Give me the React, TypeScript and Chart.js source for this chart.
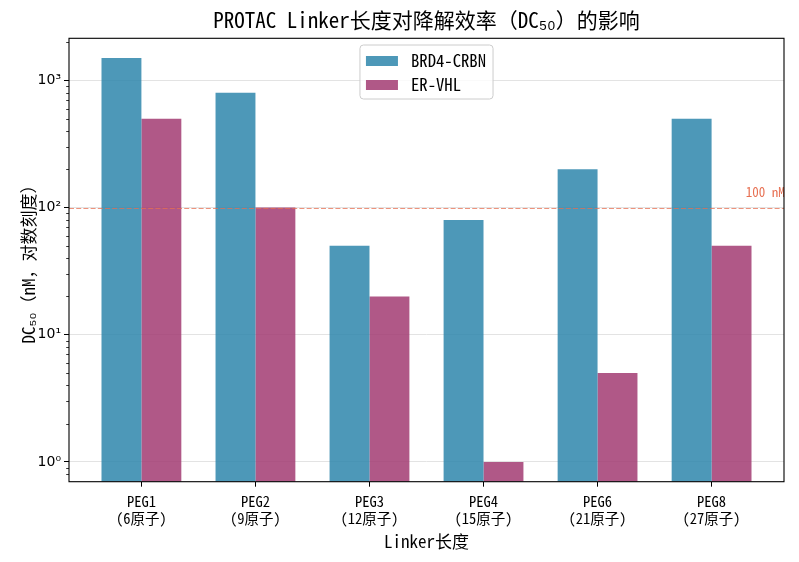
import { useEffect, useRef } from 'react';
import { Chart, registerables } from 'chart.js';

Chart.register(...registerables);

// Linker variants on the x axis (two-line tick labels)
const linkers = ['PEG1', 'PEG2', 'PEG3', 'PEG4', 'PEG6', 'PEG8'];
const atomCounts = ['(6原子)', '(9原子)', '(12原子)', '(15原子)', '(21原子)', '(27原子)'];

// DC50 values in nM
const seriesNames = ['BRD4-CRBN', 'ER-VHL'];
const brd4Crbn = [1500, 800, 50, 80, 200, 500];
const erVhl = [500, 100, 20, 1, 5, 50];

// Log axis decades and their labels
const majorTicks = [1, 10, 100, 1000];
const majorTickLabels = ['10⁰', '10¹', '10²', '10³'];
const yRange = [0.709, 2140];

// Reference threshold
const thresholdValue = 100;
const thresholdLabel = '100 nM';

const titleText = 'PROTAC Linker长度对降解效率（DC₅₀）的影响';
const xTitle = 'Linker长度';
const yTitle = 'DC₅₀（nM，对数刻度）';

const CJK = '"Noto Sans Mono CJK SC", "Noto Sans CJK SC", sans-serif';
const SANS = '"DejaVu Sans", sans-serif';

const BLUE = 'rgba(46,134,171,0.85)';
const PINK = 'rgba(162,59,114,0.85)';
const ACCENT = '#E76F51';

const isDecade = (v: number) => Math.abs(Math.log10(v) - Math.round(Math.log10(v))) < 1e-6;
const isNice = (v: number) => {
  const e = Math.floor(Math.log10(v) + 1e-9);
  const m = v / Math.pow(10, e);
  return Math.abs(m - Math.round(m)) < 1e-6;
};

const decorations = {
  id: 'decorations',
  afterDatasetsDraw(chart: any) {
    const { ctx, chartArea: a, scales } = chart;
    const x = scales.x;
    const y = scales.y;
    ctx.save();
    // threshold line
    const ty = Math.round(y.getPixelForValue(thresholdValue)) + 0.5;
    ctx.beginPath();
    ctx.rect(a.left, a.top, a.right - a.left, a.bottom - a.top);
    ctx.clip();
    ctx.strokeStyle = 'rgba(231,111,81,0.75)';
    ctx.lineWidth = 1.2;
    ctx.setLineDash([5, 2.2]);
    ctx.beginPath();
    ctx.moveTo(a.left, ty);
    ctx.lineTo(a.right, ty);
    ctx.stroke();
    ctx.restore();

    ctx.save();
    ctx.fillStyle = ACCENT;
    ctx.font = `13px ${CJK}`;
    ctx.textAlign = 'left';
    ctx.textBaseline = 'bottom';
    ctx.fillText(thresholdLabel, x.getPixelForValue(5.3), y.getPixelForValue(120) + 1);
    ctx.restore();
  },
  afterDraw(chart: any) {
    const { ctx, chartArea: a, scales } = chart;
    const y = scales.y;
    ctx.save();
    // minor ticks on the log axis
    ctx.strokeStyle = '#000';
    ctx.lineWidth = 0.8;
    for (const t of y.ticks) {
      if (isDecade(t.value)) continue;
      const py = Math.round(y.getPixelForValue(t.value)) + 0.5;
      ctx.beginPath();
      ctx.moveTo(a.left - 2.8, py);
      ctx.lineTo(a.left, py);
      ctx.stroke();
    }
    // axes frame
    ctx.lineWidth = 1.1;
    ctx.strokeStyle = '#000';
    ctx.strokeRect(a.left, a.top, a.right - a.left, a.bottom - a.top);

    // title
    ctx.fillStyle = '#000';
    ctx.font = `21px ${CJK}`;
    ctx.textAlign = 'center';
    ctx.textBaseline = 'alphabetic';
    ctx.fillText(titleText, (a.left + a.right) / 2, 28);

    // legend
    const fs = 16.7;
    ctx.font = `${fs}px ${CJK}`;
    const tw = Math.max(...seriesNames.map((n) => ctx.measureText(n).width));
    const w = 51 + tw + 7;
    const h = 54;
    const lx = (a.left + a.right) / 2 - w / 2;
    const ly = a.top + 6.7;
    ctx.beginPath();
    ctx.roundRect(lx, ly, w, h, 3.5);
    ctx.fillStyle = 'rgba(255,255,255,0.8)';
    ctx.fill();
    ctx.strokeStyle = '#cccccc';
    ctx.lineWidth = 1;
    ctx.stroke();
    const colors = [BLUE, PINK];
    seriesNames.forEach((name, i) => {
      const cy = ly + 16 + i * 24;
      ctx.fillStyle = colors[i];
      ctx.fillRect(lx + 6, cy - 5, 32, 10);
      ctx.fillStyle = '#000';
      ctx.textAlign = 'left';
      ctx.textBaseline = 'middle';
      ctx.fillText(name, lx + 51, cy);
    });
    ctx.restore();
  },
};

export default function App() {
  const ref = useRef<HTMLCanvasElement>(null);

  useEffect(() => {
    const canvas = ref.current;
    if (!canvas) return;
    const chart = new Chart(canvas, {
      type: 'bar',
      data: {
        datasets: [
          {
            label: seriesNames[0],
            data: brd4Crbn.map((v, i) => ({ x: i, y: v })),
            backgroundColor: BLUE,
            borderWidth: 0,
          },
          {
            label: seriesNames[1],
            data: erVhl.map((v, i) => ({ x: i, y: v })),
            backgroundColor: PINK,
            borderWidth: 0,
          },
        ],
      },
      options: {
        responsive: false,
        animation: false,
        devicePixelRatio: 1,
        categoryPercentage: 0.7,
        barPercentage: 1,
        layout: { padding: { top: 38.3, right: 15, bottom: 0, left: 0 } },
        plugins: {
          legend: { display: false },
          title: { display: false },
          tooltip: { enabled: false },
        },
        scales: {
          x: {
            type: 'linear',
            min: -0.635,
            max: 5.635,
            offset: false,
            afterBuildTicks: (s: any) => {
              s.ticks = linkers.map((_, i) => ({ value: i }));
            },
            afterFit: (s: any) => {
              s.height = 80.3;
            },
            grid: {
              drawOnChartArea: false,
              drawTicks: true,
              tickLength: 5,
              tickColor: '#000',
              offset: false,
            },
            border: { display: false },
            ticks: {
              autoSkip: false,
              maxRotation: 0,
              padding: 7,
              color: '#000',
              font: { family: CJK, size: 14.5, lineHeight: 1.12 },
              callback: (v: any) => [linkers[v], atomCounts[v]],
            },
            title: {
              display: true,
              text: xTitle,
              color: '#000',
              font: { family: CJK, size: 17, lineHeight: 1.2 },
              padding: { top: 0, bottom: 10 },
            },
          },
          y: {
            type: 'logarithmic',
            min: yRange[0],
            max: yRange[1],
            afterBuildTicks: (s: any) => {
              s.ticks = s.ticks.filter(
                (t: any) => t.value >= yRange[0] && t.value <= yRange[1] && isNice(t.value)
              );
            },
            afterFit: (s: any) => {
              s.width = 69;
            },
            grid: {
              color: (c: any) => (c.tick && isDecade(c.tick.value) ? '#e3e3e3' : 'rgba(0,0,0,0)'),
              tickColor: (c: any) => (c.tick && isDecade(c.tick.value) ? '#000' : 'rgba(0,0,0,0)'),
              lineWidth: 1,
              drawTicks: true,
              tickLength: 5,
            },
            border: { display: false },
            ticks: {
              autoSkip: false,
              padding: 3,
              color: '#000',
              font: { family: SANS, size: 14 },
              callback: (v: any) => {
                const idx = majorTicks.findIndex((m) => Math.abs(m - v) < 1e-6 * m);
                return idx >= 0 ? majorTickLabels[idx] : '';
              },
            },
            title: {
              display: true,
              text: yTitle,
              color: '#000',
              font: { family: CJK, size: 17, lineHeight: 1.2 },
              padding: { top: 18, bottom: 0 },
            },
          },
        },
      } as any,
      plugins: [decorations],
    });
    return () => chart.destroy();
  }, []);

  return (
    <div style={{ position: 'fixed', left: 0, top: 0, width: 799, height: 562, background: '#fff' }}>
      <canvas ref={ref} width={799} height={562} style={{ display: 'block', width: 799, height: 562 }} />
    </div>
  );
}
